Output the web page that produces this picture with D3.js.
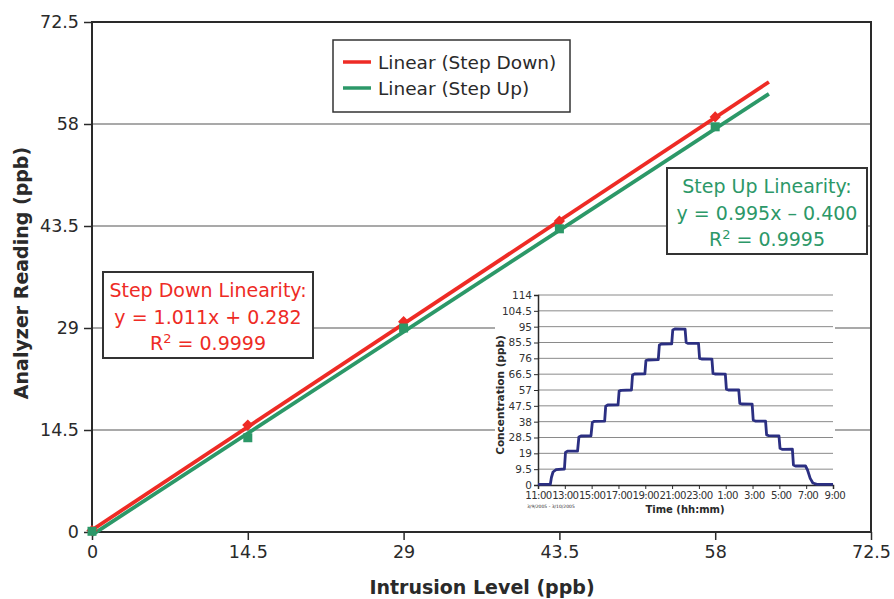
<!DOCTYPE html>
<html>
<head>
<meta charset="utf-8">
<script src="https://cdn.jsdelivr.net/npm/d3@7"></script>
<style>
body{margin:0;background:#fff;}
</style>
</head>
<body>
<div id="chart"></div>
<script>
// main chart data
var levels = [0, 14.5, 29, 43.5, 58];
var stepDown = [0.2, 15.2, 29.9, 44.2, 59.0];
var stepUp = [0.1, 13.4, 29.0, 43.1, 57.6];
var mainTicks = [0, 14.5, 29, 43.5, 58, 72.5];
var fitDown = {slope:1.011, icpt:0.282};
var fitUp = {slope:0.995, icpt:-0.400};
var fitRange = [0, 63];

// inset data (hours since 11:00, ppb)
var insetHours = [0,0.92,1.0,1.12,1.35,1.97,2.05,2.2,2.95,3.05,3.2,3.95,4.05,4.2,4.97,5.05,5.2,5.97,6.05,6.2,6.97,7.05,7.2,7.97,8.05,8.2,8.97,9.05,9.2,9.97,10.05,10.2,10.97,11.05,11.2,11.97,12.05,12.2,12.97,13.05,13.2,13.97,14.05,14.2,14.97,15.05,15.2,15.97,16.05,16.2,16.97,17.05,17.2,17.97,18.05,18.2,18.97,19.05,19.2,19.95,20.1,20.3,20.5,20.8,22];
var insetConc = [0.4,0.4,4.5,7.8,9.2,9.6,19.5,20.3,20.4,28.8,29.4,29.5,37.5,38.2,38.3,47.3,48.0,48.1,56.3,56.8,57.0,66.0,66.6,66.7,74.6,75.0,75.2,84.0,84.6,84.7,93.0,93.6,93.5,85.5,85.0,85.0,76.0,75.6,75.5,67.0,66.6,66.5,57.5,57.0,57.0,49.0,48.6,48.5,39.0,38.4,38.3,30.0,29.6,29.5,22.0,21.4,21.5,12.0,11.4,11.4,9.0,4.0,1.2,0.4,0.4];
var insetYTicks = [0, 9.5, 19, 28.5, 38, 47.5, 57, 66.5, 76, 85.5, 95, 104.5, 114];
var insetXTicks = [0, 2, 4, 6, 8, 10, 12, 14, 16, 18, 20, 22];
var insetXLabels = ["11:00","13:00","15:00","17:00","19:00","21:00","23:00"," 1:00"," 3:00"," 5:00"," 7:00"," 9:00"];

var W = 894, H = 599;
var red = "#ee2b25", green = "#2c9868", navy = "#2b2f82", ink = "#2a2a2a";
var font = "DejaVu Sans, Verdana, sans-serif";

var svg = d3.select("#chart").append("svg")
    .attr("width", W).attr("height", H)
    .attr("font-family", font);

var x = d3.scaleLinear().domain([0, 72.5]).range([92, 871]);
var y = d3.scaleLinear().domain([0, 72.5]).range([532, 22]);

// gridlines
svg.append("g").selectAll("line")
    .data(mainTicks.slice(1, 5))
    .enter().append("line")
    .attr("x1", x(0)).attr("x2", x(72.5))
    .attr("y1", function(d){return y(d);}).attr("y2", function(d){return y(d);})
    .attr("stroke", "#555").attr("stroke-width", 1.2);

// frame
svg.append("rect")
    .attr("x", x(0)).attr("y", y(72.5))
    .attr("width", x(72.5) - x(0)).attr("height", y(0) - y(72.5))
    .attr("fill", "none").attr("stroke", ink).attr("stroke-width", 2);

var yAxis = svg.append("g")
    .attr("transform", "translate(" + x(0) + ",0)")
    .call(d3.axisLeft(y).tickValues(mainTicks).tickSize(8).tickPadding(5).tickFormat(d3.format("")));
var xAxis = svg.append("g")
    .attr("transform", "translate(0," + y(0) + ")")
    .call(d3.axisBottom(x).tickValues(mainTicks).tickSize(8).tickPadding(6).tickFormat(d3.format("")));
[xAxis, yAxis].forEach(function(a){
    a.select(".domain").remove();
    a.selectAll("line").attr("stroke", ink).attr("stroke-width", 1.5);
    a.selectAll("text").attr("fill", ink).attr("font-size", "17.5px").attr("font-family", font);
});

// axis titles
svg.append("text")
    .text("Intrusion Level (ppb)")
    .attr("x", 482).attr("y", 594)
    .attr("text-anchor", "middle")
    .attr("font-weight", "bold").attr("font-size", "19px").attr("fill", ink);
svg.append("text")
    .text("Analyzer Reading (ppb)")
    .attr("transform", "translate(28,273) rotate(-90)")
    .attr("text-anchor", "middle")
    .attr("font-weight", "bold").attr("font-size", "19px").attr("fill", ink);

// fitted lines
function fitLine(fit, color){
    svg.append("line")
        .attr("x1", x(fitRange[0])).attr("y1", y(fit.slope * fitRange[0] + fit.icpt))
        .attr("x2", x(fitRange[1])).attr("y2", y(fit.slope * fitRange[1] + fit.icpt))
        .attr("stroke", color).attr("stroke-width", 3.8);
}
fitLine(fitUp, green);
fitLine(fitDown, red);

// markers
svg.append("g").selectAll("path")
    .data(levels)
    .enter().append("path")
    .attr("d", d3.symbol().type(d3.symbolDiamond2).size(80))
    .attr("transform", function(d, i){return "translate(" + x(d) + "," + y(stepDown[i]) + ")";})
    .attr("fill", red);
svg.append("g").selectAll("rect")
    .data(levels)
    .enter().append("rect")
    .attr("x", function(d){return x(d) - 4.5;})
    .attr("y", function(d, i){return y(stepUp[i]) - 4.5;})
    .attr("width", 9).attr("height", 9)
    .attr("fill", green);

// legend
var legend = svg.append("g");
legend.append("rect")
    .attr("x", 333).attr("y", 40).attr("width", 237).attr("height", 72)
    .attr("fill", "#fff").attr("stroke", "#333").attr("stroke-width", 1.5);
[["Linear (Step Down)", red], ["Linear (Step Up)", green]].forEach(function(item, i){
    legend.append("line")
        .attr("x1", 343).attr("x2", 371)
        .attr("y1", 62 + i * 26).attr("y2", 62 + i * 26)
        .attr("stroke", item[1]).attr("stroke-width", 3.5);
    legend.append("text")
        .text(item[0])
        .attr("x", 378).attr("y", 69 + i * 26)
        .attr("font-size", "18.5px").attr("fill", ink);
});

// equation boxes
function eqBox(bx, by, bw, color, lines){
    var g = svg.append("g");
    g.append("rect")
        .attr("x", bx).attr("y", by).attr("width", bw).attr("height", 86)
        .attr("fill", "#fff").attr("stroke", "#333").attr("stroke-width", 2);
    var cx = bx + bw / 2;
    g.append("text").text(lines[0])
        .attr("x", cx).attr("y", by + 25)
        .attr("text-anchor", "middle").attr("font-size", "19px").attr("fill", color);
    g.append("text").text(lines[1])
        .attr("x", cx).attr("y", by + 52)
        .attr("text-anchor", "middle").attr("font-size", "19px").attr("fill", color);
    var t = g.append("text")
        .attr("x", cx).attr("y", by + 78)
        .attr("text-anchor", "middle").attr("font-size", "19px").attr("fill", color);
    t.append("tspan").text("R");
    t.append("tspan").text("2").attr("font-size", "13px").attr("dy", "-7");
    t.append("tspan").text(" = " + lines[2]).attr("dy", "7");
}
eqBox(103, 272, 210, red, ["Step Down Linearity:", "y = 1.011x + 0.282", "0.9999"]);
eqBox(667, 168, 200, green, ["Step Up Linearity:", "y = 0.995x \u2013 0.400", "0.9995"]);

// inset chart
var ix = d3.scaleLinear().domain([0, 22]).range([538, 833]);
var iy = d3.scaleLinear().domain([0, 114]).range([485, 295]);
var inset = svg.append("g");
inset.append("rect")
    .attr("x", 495).attr("y", 287).attr("width", 340).attr("height", 228)
    .attr("fill", "#fff");
inset.append("g").selectAll("line")
    .data(insetYTicks.slice(1))
    .enter().append("line")
    .attr("x1", ix(0)).attr("x2", ix(22))
    .attr("y1", function(d){return iy(d);}).attr("y2", function(d){return iy(d);})
    .attr("stroke", "#8a8a8a").attr("stroke-width", 1);

var iyAxis = inset.append("g")
    .attr("transform", "translate(" + ix(0) + ",0)")
    .call(d3.axisLeft(iy).tickValues(insetYTicks).tickSize(4).tickPadding(2).tickFormat(d3.format("")));
var ixAxis = inset.append("g")
    .attr("transform", "translate(0," + iy(0) + ")")
    .call(d3.axisBottom(ix).tickValues(insetXTicks).tickSize(4).tickPadding(3)
        .tickFormat(function(d, i){return insetXLabels[i];}));
[iyAxis, ixAxis].forEach(function(a){
    a.select(".domain").attr("stroke", ink).attr("stroke-width", 1.5);
    a.selectAll("line").attr("stroke", ink);
    a.selectAll("text").attr("fill", "#333").attr("font-size", "10.5px").attr("font-family", font)
        .style("white-space", "pre");
});
ixAxis.selectAll("text").attr("font-size", "10.2px").attr("letter-spacing", "-0.6px");

var line = d3.line()
    .x(function(d){return ix(d[0]);})
    .y(function(d){return iy(d[1]);});
inset.append("path")
    .datum(d3.zip(insetHours, insetConc))
    .attr("d", line)
    .attr("fill", "none").attr("stroke", navy).attr("stroke-width", 2.8)
    .attr("stroke-linejoin", "round");

inset.append("text")
    .text("Concentration (ppb)")
    .attr("transform", "translate(504,395) rotate(-90)")
    .attr("text-anchor", "middle")
    .attr("font-weight", "bold").attr("font-size", "10.5px").attr("fill", ink);
inset.append("text")
    .text("Time (hh:mm)")
    .attr("x", 685).attr("y", 513)
    .attr("text-anchor", "middle")
    .attr("font-weight", "bold").attr("font-size", "10px").attr("fill", ink);
inset.append("text")
    .text("3/9/2005 - 3/10/2005")
    .attr("x", 527).attr("y", 508)
    .attr("font-size", "4.5px").attr("fill", ink);
</script>
</body>
</html>
